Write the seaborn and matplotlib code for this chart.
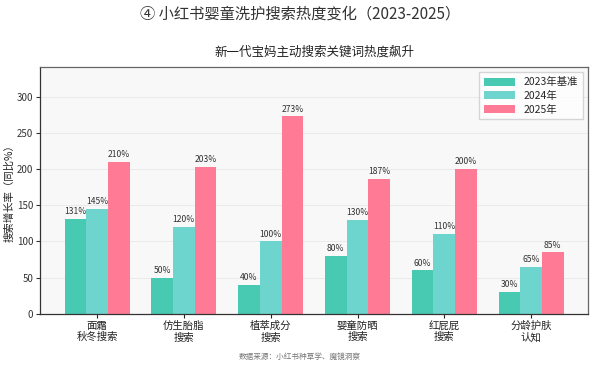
import matplotlib
matplotlib.use("Agg")
import matplotlib.pyplot as plt
import seaborn as sns
import pandas as pd

categories = ["面霜\n秋冬搜索", "仿生胎脂\n搜索", "植萃成分\n搜索", "婴童防晒\n搜索", "红屁屁\n搜索", "分龄护肤\n认知"]
series_names = ["2023年基准", "2024年", "2025年"]
v2023 = [131, 50, 40, 80, 60, 30]
v2024 = [145, 120, 100, 130, 110, 65]
v2025 = [210, 203, 273, 187, 200, 85]
colors = ["#48CAB2", "#6DD5CE", "#FF7A94"]

sns.set_theme(style="white")
plt.rcParams['font.family'] = ['Noto Sans CJK SC', 'DejaVu Sans']
plt.rcParams['axes.unicode_minus'] = False

rows = []
for name, vals in zip(series_names, [v2023, v2024, v2025]):
    for c, v in zip(categories, vals):
        rows.append({"cat": c, "series": name, "value": v})
df = pd.DataFrame(rows)

fig = plt.figure(figsize=(6, 3.67), dpi=100)
fig.patch.set_facecolor("#FFFFFF")
ax = fig.add_axes([0.067, 0.145, 0.913, 0.672])
ax.set_facecolor("#F8F8F8")

sns.barplot(data=df, x="cat", y="value", hue="series", palette=colors,
            width=0.75, ax=ax, saturation=1, linewidth=0, edgecolor="none")

for cont in ax.containers:
    ax.bar_label(cont, labels=[f"{int(v)}%" for v in cont.datavalues],
                 padding=2, fontsize=6.2, color="#333333")

ax.set_ylim(0, 341)
ax.set_xlim(-0.655, 5.655)
ax.set_yticks([0, 50, 100, 150, 200, 250, 300])
ax.yaxis.grid(True, color="#E8E8E8", linewidth=0.6)
ax.set_axisbelow(True)
ax.tick_params(axis="y", labelsize=7, colors="#333333", length=3, width=0.8, left=True, pad=2)
ax.tick_params(axis="x", labelsize=7.5, colors="#222222", length=3, width=0.8, bottom=True, pad=2)
ax.set_xlabel("")
ax.set_ylabel("搜索增长率（同比%）", fontsize=7.5, color="#222222", labelpad=2)
for s in ["left", "bottom"]:
    ax.spines[s].set_color("#333333")
    ax.spines[s].set_linewidth(0.9)
for s in ["top", "right"]:
    ax.spines[s].set_color("#666666")
    ax.spines[s].set_linewidth(0.9)

ax.set_title("新一代宝妈主动搜索关键词热度飙升", fontsize=9, color="#222222", pad=8)
leg = ax.legend(loc="upper right", fontsize=7.5, frameon=True, fancybox=False,
                handlelength=3.0, handleheight=0.8, borderpad=0.45, labelspacing=0.35,
                borderaxespad=0.5)
leg.get_frame().set_edgecolor("#CCCCCC")
leg.get_frame().set_facecolor("#FFFFFF")

fig.text(0.5, 0.962, "④ 小红书婴童洗护搜索热度变化（2023-2025）", ha="center", va="center",
         fontsize=11, color="#333333")
fig.text(0.5, 0.028, "数据来源：小红书种草学、魔镜洞察", ha="center", va="center",
         fontsize=5.5, color="#777777")

fig.savefig("out.png", dpi=100)
